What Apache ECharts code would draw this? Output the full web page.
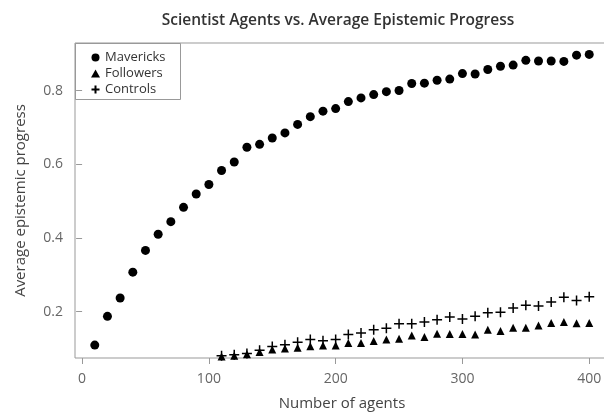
<!DOCTYPE html>
<html>
<head>
<meta charset="utf-8">
<script src="https://cdn.jsdelivr.net/npm/echarts@6/dist/echarts.min.js"></script>
<style>html,body{margin:0;padding:0;background:#fff;}#c{width:604px;height:416px;}</style>
</head>
<body>
<div id="c"></div>
<script>
const mavX = [10,20,30,40,50,60,70,80,90,100,110,120,130,140,150,160,170,180,190,200,210,220,230,240,250,260,270,280,290,300,310,320,330,340,350,360,370,380,390,400];
const mavericks = [0.109,0.187,0.237,0.307,0.366,0.410,0.444,0.483,0.519,0.545,0.583,0.606,0.646,0.654,0.671,0.685,0.708,0.729,0.744,0.751,0.770,0.780,0.789,0.797,0.800,0.819,0.820,0.828,0.831,0.846,0.845,0.857,0.866,0.869,0.882,0.880,0.880,0.879,0.896,0.898];
const folX = [110,120,130,140,150,160,170,180,190,200,210,220,230,240,250,260,270,280,290,300,310,320,330,340,350,360,370,380,390,400];
const followers = [0.078,0.080,0.084,0.090,0.097,0.100,0.102,0.106,0.108,0.108,0.115,0.115,0.120,0.124,0.126,0.135,0.131,0.140,0.139,0.139,0.138,0.151,0.147,0.156,0.156,0.162,0.169,0.172,0.168,0.169];
const controls = [0.080,0.083,0.086,0.095,0.105,0.110,0.117,0.124,0.121,0.124,0.138,0.142,0.151,0.155,0.167,0.167,0.172,0.178,0.185,0.180,0.187,0.197,0.198,0.210,0.217,0.215,0.226,0.239,0.230,0.240];
const xTicks = [0,100,200,300,400];
const yTicks = [0.2,0.4,0.6,0.8];

const FONT = '"Open Sans", "Noto Sans", sans-serif';
const pair = (xs, ys) => xs.map((x, i) => [x, ys[i]]);
const plusPath = 'path://M5,0L5,10M0,5L10,5';

const chart = echarts.init(document.getElementById('c'), null, {renderer: 'canvas'});
chart.setOption({
  animation: false,
  backgroundColor: '#fff',
  title: {
    text: 'Scientist Agents vs. Average Epistemic Progress',
    left: 333, top: 8, textAlign: 'center',
    textStyle: {fontFamily: FONT, fontSize: 15.5, fontWeight: 600, color: '#333'}
  },
  grid: {left: 75, top: 43, right: -5, bottom: 58, outerBoundsMode: 'none', containLabel: false,
         show: true, borderColor: '#999', borderWidth: 1, backgroundColor: 'transparent'},
  legend: {
    orient: 'vertical', left: 84, top: 46, itemWidth: 9, itemHeight: 8, itemGap: 3,
    textStyle: {fontFamily: FONT, fontSize: 13, color: '#333', lineHeight: 12.5},
    data: ['Mavericks', 'Followers', 'Controls']
  },
  graphic: [{type: 'rect', shape: {x: 75.5, y: 43.5, width: 105, height: 56}, style: {fill: 'none', stroke: '#999', lineWidth: 1}, z: 100}],
  xAxis: {
    type: 'value', min: -5.6, max: 415.6,
    name: 'Number of agents', nameLocation: 'middle', nameGap: 38,
    nameTextStyle: {fontFamily: FONT, fontSize: 15, color: '#444'},
    axisLine: {show: false},
    axisTick: {show: true, length: 6, lineStyle: {color: '#999'}, customValues: xTicks},
    axisLabel: {fontFamily: FONT, fontSize: 14, color: '#666', margin: 14, customValues: xTicks},
    splitLine: {show: false}
  },
  yAxis: {
    type: 'value', min: 0.074, max: 0.929,
    name: 'Average epistemic progress', nameLocation: 'middle', nameGap: 47, nameRotate: 90,
    nameTextStyle: {fontFamily: FONT, fontSize: 15, color: '#444'},
    axisLine: {show: false},
    axisTick: {show: true, length: 6, lineStyle: {color: '#999'}, customValues: yTicks},
    axisLabel: {fontFamily: FONT, fontSize: 14, color: '#666', margin: 12, customValues: yTicks, formatter: v => v.toFixed(1)},
    splitLine: {show: false}
  },
  series: [
    {name: 'Mavericks', type: 'scatter', symbol: 'circle', symbolSize: 9, data: pair(mavX, mavericks), itemStyle: {color: '#000', opacity: 1}},
    {name: 'Followers', type: 'scatter', symbol: 'triangle', symbolSize: 8, data: pair(folX, followers), itemStyle: {color: '#000', opacity: 1}},
    {name: 'Controls', type: 'scatter', symbol: plusPath, symbolSize: 10, data: pair(folX, controls), itemStyle: {color: 'none', borderColor: '#000', borderWidth: 1.5, opacity: 1}}
  ]
});
</script>
</body>
</html>
